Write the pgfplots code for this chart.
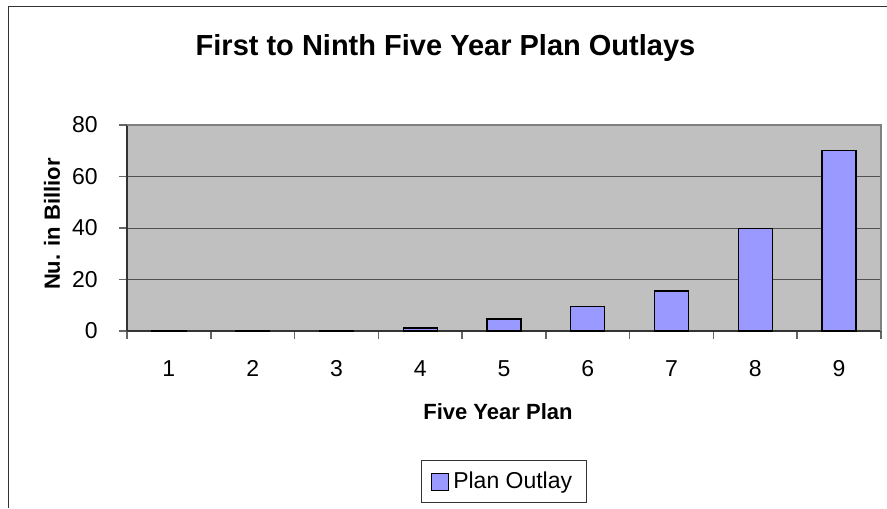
\documentclass[border=0pt]{standalone}
\usepackage{fontspec}
\setmainfont{Liberation Sans}
\usepackage{pgfplots}
\pgfplotsset{compat=1.18}
\definecolor{barblue}{HTML}{9999FF}
\definecolor{plotgray}{HTML}{C0C0C0}
\definecolor{bordergray}{HTML}{808080}
\definecolor{gridc}{HTML}{505050}
\definecolor{tickc}{HTML}{666666}
\begin{document}
\begin{tikzpicture}
\path[use as bounding box] (0,0) rectangle (443.5pt,254pt);
\draw[line width=0.7pt, color=black!80] (4.35pt,0pt) -- (4.35pt,250.6pt) -- (443.5pt,250.6pt);
\begin{axis}[
  at={(63.5pt,88.5pt)}, anchor=south west,
  scale only axis, width=377pt, height=103pt,
  ybar, bar width=17pt,
  xmin=0.5, xmax=9.5, ymin=0, ymax=80,
  ytick={0,20,...,80}, xtick={1,...,9},
  minor xtick={0.5,1.5,...,9.5},
  ymajorgrids, major grid style={gridc, line width=0.5pt},
  axis background/.style={fill=plotgray},
  axis x line*=bottom, axis y line*=left,
  axis line style={-, black!80, line width=0.75pt},
  tick align=outside, major tick length=4pt, minor tick length=4pt,
  every tick/.style={tickc, line width=0.75pt},
  major x tick style={draw=none},
  /pgf/number format/assume math mode=true,
  every tick label/.append style={font=\fontsize{11.5}{13}\selectfont, inner sep=0pt},
  xticklabel style={anchor=base, yshift=-18.5pt},
  yticklabel style={anchor=east, xshift=-10.5pt},
  title={First to Ninth Five Year Plan Outlays},
  title style={at={(rel axis cs:0.4224,1.277)}, anchor=base, font=\bfseries\fontsize{14.5}{17}\selectfont},
  xlabel={Five Year Plan},
  xlabel style={at={(rel axis cs:0.492,-0.432)}, anchor=base, font=\bfseries\fontsize{11}{13}\selectfont},
  ylabel={Nu. in Billior},
  ylabel style={at={(rel axis cs:-0.0889,0.519)}, anchor=base, font=\bfseries\fontsize{11}{13}\selectfont},
  legend style={at={(rel axis cs:0.4995,-0.7306)}, anchor=center, draw=black!80, line width=0.5pt,
    font=\fontsize{11.5}{13}\selectfont, inner xsep=5pt, inner ysep=3.5pt},
  after end axis/.code={\draw[bordergray, line width=0.75pt] (rel axis cs:0,1) -- (rel axis cs:1,1) -- (rel axis cs:1,0);},
]
\addplot[fill=barblue, draw=black, line width=0.7pt,
  legend image code/.code={\draw[##1, line width=0.6pt] (0pt,-4.5pt) rectangle (8.5pt,4pt);}]
  coordinates {(1,0.05) (2,0.1) (3,0.2) (4,1.1) (5,4.7) (6,9.5) (7,15.6) (8,39.8) (9,70)};
\addlegendentry{Plan Outlay}
\end{axis}
\end{tikzpicture}
\end{document}
